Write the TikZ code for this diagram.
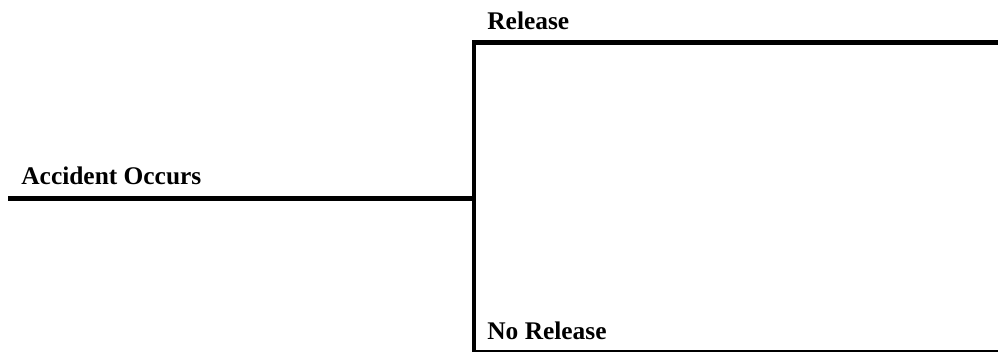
\documentclass[tikz,border=0pt]{standalone}
\usepackage{fontspec}
\setmainfont{Liberation Serif}
\usepackage{tikz}
\usetikzlibrary{positioning}

\begin{document}
\begin{tikzpicture}[
    x=0.5pt, y=-0.5pt,
    event/.style={anchor=base west, inner sep=0pt, font=\bfseries\fontsize{12.7}{15}\selectfont},
    branch/.style={line width=2.3pt}
]
\useasboundingbox (0,0) rectangle (998,352);
\clip (0,0) rectangle (998,352);

\coordinate (start) at (8,198.5);
\coordinate (fork) at (474,198.5);
\coordinate (up) at (474,42.5);
\coordinate (down) at (474,352.8);
\coordinate (upend) at (1002,42.5);
\coordinate (downend) at (1002,352.8);

\node[event] (accident) at (21,185) {Accident Occurs};
\node[event] (release) at (487,30) {Release};
\node[event] (norelease) at (487,340) {No Release};

\draw[branch] (start) -- (fork);
\draw[branch] (upend) -- (up) -- (down) -- (downend);

\end{tikzpicture}
\end{document}
